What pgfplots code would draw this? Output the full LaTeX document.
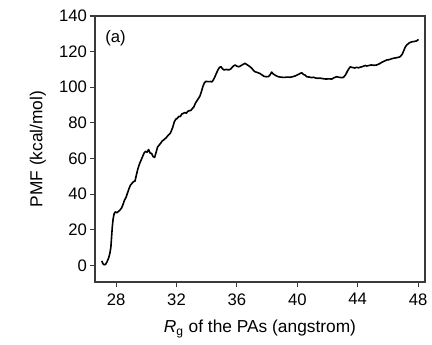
\documentclass[border=0pt]{standalone}
\usepackage{pgfplots}
\pgfplotsset{compat=1.18}
\usepackage{fontspec}
\setmainfont{Liberation Sans}
\definecolor{axgray}{HTML}{3A3A3A}
\begin{document}
\begin{tikzpicture}
\path (-71.25pt,-46.5pt) rectangle (252.75pt,211.5pt);
\begin{axis}[
  at={(0,0)}, anchor=south west,
  scale only axis,
  width=247.5pt, height=199.5pt,
  xmin=26.6, xmax=48.46,
  ymin=-9.4, ymax=140,
  xtick={28,32,...,48},
  ytick={0,20,...,140},
  tick align=outside,
  xtick pos=bottom, ytick pos=left,
  major tick length=4pt,
  axis line style={axgray, line width=0.8pt},
  tick style={axgray, line width=0.8pt},
  /pgf/number format/assume math mode=true,
  ticklabel style={font=\fontsize{12.5}{14}\selectfont},
  xticklabel style={yshift=-1pt},
  yticklabel style={xshift=1.5pt},
  label style={font=\fontsize{13}{15}\selectfont},
  xlabel={\textit{R}\textsubscript{g} of the PAs (angstrom)},
  ylabel={PMF (kcal/mol)},
  xlabel style={yshift=-4.5pt},
  ylabel style={yshift=3pt},
  clip=false,
]
\addplot[black, line width=1.2pt, line join=round] coordinates {
(27.05,2.5)(27.12,1.0)(27.2,0.3)(27.3,0.5)(27.4,2.0)(27.5,4.0)(27.58,6.5)(27.65,10)
(27.7,16)(27.75,22)(27.8,26)(27.87,29)(27.95,30)(28.05,29.5)(28.15,30.2)(28.25,31)
(28.35,32)(28.45,34)(28.55,36.5)(28.65,38)(28.75,40.5)(28.85,43)(28.95,45)(29.05,46)
(29.15,47)(29.25,47.3)(29.35,51)(29.45,54.5)(29.55,57)(29.65,59)(29.75,61)(29.85,63)
(29.95,64)(30.05,63.5)(30.15,65)(30.25,63)(30.35,62.8)(30.45,61)(30.55,60.6)(30.65,63.5)
(30.75,66.5)(30.85,67.5)(30.95,68.5)(31.05,69.8)(31.15,70.4)(31.3,71.5)(31.45,73)(31.6,74.3)
(31.75,77.5)(31.85,80.5)(31.95,82)(32.05,82.5)(32.15,83.6)(32.25,83.5)(32.35,85)(32.45,85.3)
(32.55,85.8)(32.65,85.4)(32.75,86.5)(32.85,86.8)(32.95,87)(33.05,88)(33.15,89)(33.25,91)
(33.4,93)(33.55,95)(33.65,97.5)(33.75,100.5)(33.85,102.5)(33.95,103.3)(34.1,103.1)(34.25,103.2)
(34.35,103)(34.45,104.3)(34.55,106)(34.65,108)(34.75,109.8)(34.85,111.2)(34.95,111.5)(35.05,110.3)
(35.15,109.7)(35.3,110)(35.45,109.7)(35.6,110.3)(35.75,111.8)(35.88,112.5)(36.0,111.8)(36.12,111.5)
(36.25,112)(36.4,112.8)(36.54,113.4)(36.65,112.8)(36.75,112.2)(36.87,111.5)(37.0,110.5)(37.1,109.4)
(37.2,108.7)(37.35,108.3)(37.5,107.8)(37.65,107)(37.8,106.1)(37.95,105.9)(38.1,106)(38.2,107)
(38.3,108.5)(38.4,107.5)(38.53,106.8)(38.65,106.2)(38.8,105.8)(38.97,105.6)(39.15,105.5)(39.3,105.7)
(39.52,105.6)(39.7,105.9)(39.85,106.3)(39.97,106.8)(40.1,107.3)(40.2,107.8)(40.3,108.1)(40.4,107.2)
(40.52,106.8)(40.63,105.9)(40.8,105.7)(40.95,105.4)(41.07,105.6)(41.2,105.2)(41.35,105)(41.51,105.1)
(41.7,104.8)(41.9,104.6)(42.1,104.7)(42.28,104.6)(42.45,105.4)(42.62,105.9)(42.75,105.6)(42.9,105.4)
(43.06,105.5)(43.2,107)(43.35,109.5)(43.5,111.4)(43.65,111.1)(43.8,110.8)(43.95,111.2)(44.05,110.9)
(44.2,111.3)(44.35,111.7)(44.5,112.2)(44.6,111.9)(44.75,112.2)(44.9,112.5)(45.1,112.3)(45.26,112.5)
(45.45,113.2)(45.6,114)(45.75,114.6)(45.93,115.3)(46.1,115.5)(46.25,116)(46.4,116.3)(46.59,116.6)
(46.7,116.8)(46.81,117.1)(46.95,118.5)(47.05,120.5)(47.15,122.5)(47.25,123.7)(47.4,124.8)(47.58,125.5)
(47.75,125.7)(47.9,126)(48.03,126.8)
};
\node[anchor=north west, inner sep=0pt, font=\fontsize{12.5}{14}\selectfont] at (axis cs:27.27,132.3) {(a)};
\end{axis}
\end{tikzpicture}
\end{document}
